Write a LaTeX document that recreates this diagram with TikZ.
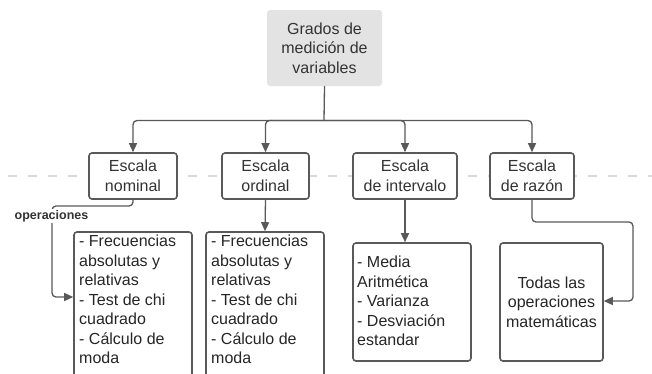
\documentclass[tikz,border=0pt]{standalone}
\usepackage{fontspec}
\setmainfont{Liberation Sans}
\usetikzlibrary{arrows.meta}
\definecolor{edgec}{HTML}{595959}
\definecolor{topfill}{HTML}{E3E3E3}
\definecolor{dashc}{HTML}{D9D9D9}
\begin{document}
\begin{tikzpicture}[x=1pt,y=-1pt,
  boxs/.style={draw=edgec, line width=1.6pt, rounded corners=3pt, fill=white, inner sep=0pt},
  headtxt/.style={font=\fontsize{16}{19.5}\selectfont, align=center, text=black!80},
  bodytxt/.style={font=\fontsize{16}{19.5}\selectfont, text=black!85},
  conn/.style={draw=edgec, line width=1.3pt, rounded corners=4pt, -{Triangle[length=9pt,width=8pt]}},
  plain/.style={draw=edgec, line width=1.3pt, rounded corners=4pt}]
\clip (0,0) rectangle (652,373);
\fill[white] (0,0) rectangle (652,373);
% dashed separator
\draw[dashc, line width=2pt, dash pattern=on 9pt off 11pt] (8,176) -- (652,176);
% top node
\node[fill=topfill, rounded corners=3pt, minimum width=115pt, minimum height=76pt, inner sep=0pt] (top) at (324.5,48) {};
\node[headtxt] (toptxt) at (top.center) {Grados de\\medición de\\variables};
% upper boxes
\node[boxs, minimum width=88pt, minimum height=46pt] (nom) at (133,176) {};
\node[headtxt] (nomtxt) at (nom.center) {Escala\\nominal};
\node[boxs, minimum width=87pt, minimum height=46pt] (ord) at (265.5,176) {};
\node[headtxt] (ordtxt) at (ord.center) {Escala\\ordinal};
\node[boxs, minimum width=104pt, minimum height=46pt] (int) at (405,176) {};
\node[headtxt] (inttxt) at (int.center) {Escala\\de intervalo};
\node[boxs, minimum width=84pt, minimum height=46pt] (raz) at (532,176) {};
\node[headtxt] (raztxt) at (raz.center) {Escala\\de razón};
% lower boxes
\node[boxs, minimum width=118pt, minimum height=150pt] (opsnom) at (133,307) {};
\node[bodytxt, align=left, anchor=north west, inner sep=0pt] (opsnomtxt) at (79,235) {- Frecuencias\\absolutas y\\relativas\\- Test de chi\\cuadrado\\- Cálculo de\\moda};
\node[boxs, minimum width=118pt, minimum height=150pt] (opsord) at (265,307) {};
\node[bodytxt, align=left, anchor=north west, inner sep=0pt] (opsordtxt) at (211,235) {- Frecuencias\\absolutas y\\relativas\\- Test de chi\\cuadrado\\- Cálculo de\\moda};
\node[boxs, minimum width=118pt, minimum height=118pt] (opsint) at (412,302) {};
\node[bodytxt, align=left, anchor=west, inner sep=0pt] (opsinttxt) at (357,301) {- Media\\Aritmética\\- Varianza\\- Desviación\\estandar};
\node[boxs, minimum width=103pt, minimum height=118pt] (opsraz) at (551.5,302) {};
\node[bodytxt, align=center, inner sep=0pt] (opsraztxt) at (opsraz.center) {Todas las\\operaciones\\matemáticas};
% connectors from top
\coordinate (j) at (324,120.5);
\draw[plain] (top.south) -- (j);
\draw[conn] (j) -| (nom.north);
\draw[conn] (j) -| (ord.north);
\draw[conn] (j) -| (int.north);
\draw[conn] (j) -| (raz.north);
% lower connectors
\coordinate (a1) at (133,206);
\coordinate (a2) at (52,206);
\coordinate (a3) at (52,297);
\draw[conn] (nom.south) -- (a1) -- (a2) -- (a3) -- (opsnom.west |- a3);
\node[fill=white, inner sep=1.5pt, font=\fontsize{12.5}{14}\selectfont\bfseries, text=black!80] (oplabel) at (51.5,216) {operaciones};
\draw[conn] (ord.south) -- (opsord.north);
\draw[conn] (int.south) -- (opsint.north -| int.south);
\coordinate (b1) at (532,222);
\coordinate (b2) at (633,222);
\coordinate (b3) at (633,301);
\draw[conn] (raz.south) -- (b1) -- (b2) -- (b3) -- (opsraz.east |- b3);
\end{tikzpicture}
\end{document}
